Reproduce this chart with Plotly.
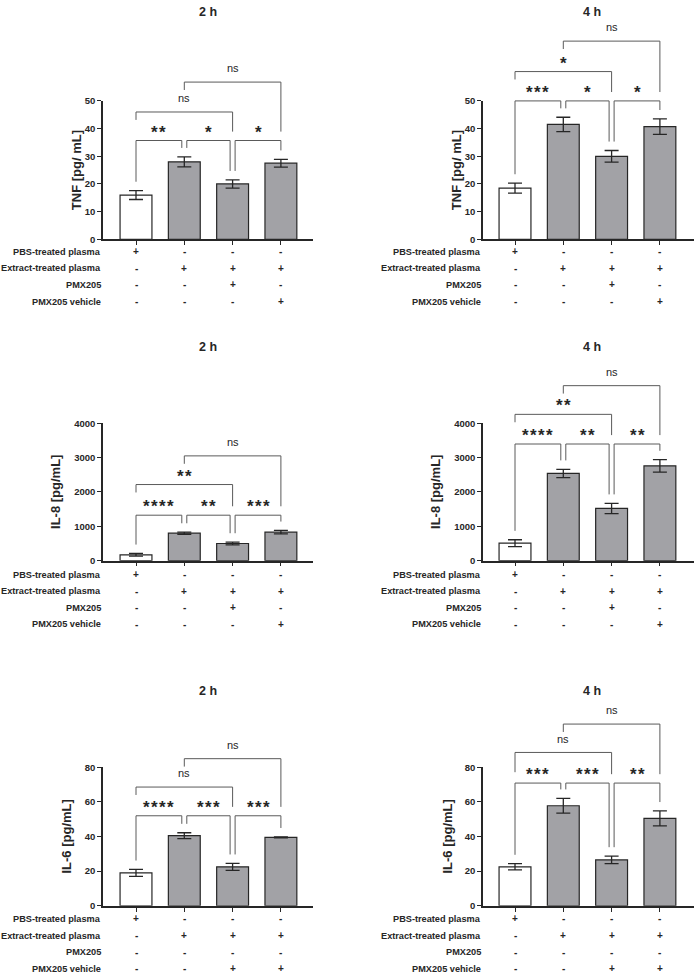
import plotly.graph_objects as go

W, H = 694, 977

# ---------------- data ----------------
row_labels = ["PBS-treated plasma", "Extract-treated plasma", "PMX205", "PMX205 vehicle"]
groups = [0, 1, 2, 3]

signs_std = [["+", "-", "-", "-"],
             ["-", "+", "+", "+"],
             ["-", "-", "+", "-"],
             ["-", "-", "-", "+"]]
signs_il6 = [["+", "-", "-", "-"],
             ["-", "+", "+", "+"],
             ["-", "-", "-", "-"],
             ["-", "-", "+", "+"]]

tnf_2h_mean = [16.0, 28.0, 20.0, 27.5]
tnf_2h_err = [1.6, 1.8, 1.5, 1.4]
tnf_4h_mean = [18.5, 41.5, 30.0, 40.7]
tnf_4h_err = [1.8, 2.6, 2.1, 2.8]
il8_2h_mean = [170, 800, 500, 830]
il8_2h_err = [40, 30, 40, 50]
il8_4h_mean = [510, 2540, 1520, 2760]
il8_4h_err = [100, 120, 150, 180]
il6_2h_mean = [19.0, 40.5, 22.5, 39.5]
il6_2h_err = [2.0, 1.7, 2.0, 0.3]
il6_4h_mean = [22.5, 57.8, 26.5, 50.5]
il6_4h_err = [1.8, 4.3, 2.2, 4.3]

# brackets: (group i, group j, level in data units, label)
tnf_2h_br = [(0, 1, 35.7, "**"), (1, 2, 35.7, "*"), (2, 3, 35.7, "*"),
             (0, 2, 46.0, "ns"), (1, 3, 56.8, "ns")]
tnf_4h_br = [(0, 1, 50.0, "***"), (1, 2, 50.0, "*"), (2, 3, 50.0, "*"),
             (0, 2, 60.6, "*"), (1, 3, 71.6, "ns")]
il8_2h_br = [(0, 1, 1324, "****"), (1, 2, 1324, "**"), (2, 3, 1324, "***"),
             (0, 2, 2216, "**"), (1, 3, 3050, "ns")]
il8_4h_br = [(0, 1, 3396, "****"), (1, 2, 3396, "**"), (2, 3, 3396, "**"),
             (0, 2, 4259, "**"), (1, 3, 5094, "ns")]
il6_2h_br = [(0, 1, 52.0, "****"), (1, 2, 52.0, "***"), (2, 3, 52.0, "***"),
             (0, 2, 68.6, "ns"), (1, 3, 85.0, "ns")]
il6_4h_br = [(0, 1, 70.9, "***"), (1, 2, 70.9, "***"), (2, 3, 70.9, "**"),
             (0, 2, 88.6, "ns"), (1, 3, 105.0, "ns")]

# ---------------- layout geometry (pixels) ----------------
COLS = [dict(ax_l=103, ax_r=313, c0=136, ttl_x=208),
        dict(ax_l=483, ax_r=694, c0=515, ttl_x=592)]
ROWS = [dict(y0=236, ytop=96, ttl_y=6.5, tab0=248.5),
        dict(y0=561, ytop=422, ttl_y=345, tab0=575),
        dict(y0=910, ytop=770, ttl_y=693, tab0=923.3)]
SP = 48.3
TAB_STEP = 16.8

panels = [
    dict(r=0, c=0, title="2 h", ytitle="TNF [pg/ mL]", ymax=50, dtick=10, mean=tnf_2h_mean, err=tnf_2h_err, br=tnf_2h_br, signs=signs_std, yt_x=76, long_left=False),
    dict(r=0, c=1, title="4 h", ytitle="TNF [pg/ mL]", ymax=50, dtick=10, mean=tnf_4h_mean, err=tnf_4h_err, br=tnf_4h_br, signs=signs_std, yt_x=456, long_left=False),
    dict(r=1, c=0, title="2 h", ytitle="IL-8 [pg/mL]", ymax=4000, dtick=1000, mean=il8_2h_mean, err=il8_2h_err, br=il8_2h_br, signs=signs_std, yt_x=56, long_left=False),
    dict(r=1, c=1, title="4 h", ytitle="IL-8 [pg/mL]", ymax=4000, dtick=1000, mean=il8_4h_mean, err=il8_4h_err, br=il8_4h_br, signs=signs_std, yt_x=436, long_left=False),
    dict(r=2, c=0, title="2 h", ytitle="IL-6 [pg/mL]", ymax=80, dtick=20, mean=il6_2h_mean, err=il6_2h_err, br=il6_2h_br, signs=signs_il6, yt_x=67, long_left=False),
    dict(r=2, c=1, title="4 h", ytitle="IL-6 [pg/mL]", ymax=80, dtick=20, mean=il6_4h_mean, err=il6_4h_err, br=il6_4h_br, signs=signs_il6, yt_x=448, long_left=True),
]

FONT = "Liberation Sans, Arial, sans-serif"
DARK = "#262626"
GREY = "#a2a2a6"
LINE = "#5a5a5a"

fig = go.Figure()
layout = dict(width=W, height=H, margin=dict(l=0, r=0, t=0, b=0),
              paper_bgcolor="white", plot_bgcolor="white", showlegend=False,
              font=dict(family=FONT, color=DARK))
shapes = []
annotations = []

for n, p in enumerate(panels, start=1):
    col = COLS[p["c"]]
    row = ROWS[p["r"]]
    sfx = "" if n == 1 else str(n)
    xa, ya = "x" + sfx, "y" + sfx
    lo = (col["ax_l"] - col["c0"]) / SP
    hi = (col["ax_r"] - col["c0"]) / SP
    ymax = p["ymax"]
    ax_w = col["ax_r"] - col["ax_l"]
    ax_h = row["y0"] - row["ytop"]

    layout["xaxis" + sfx] = dict(
        domain=[col["ax_l"] / W, min(col["ax_r"] / W, 1.0)], range=[lo, hi], anchor=ya,
        showline=True, linecolor=DARK, linewidth=1.5, ticks="outside", ticklen=4,
        tickwidth=1.2, tickcolor=DARK, tickvals=groups, showticklabels=False,
        showgrid=False, zeroline=False, fixedrange=True)
    layout["yaxis" + sfx] = dict(
        domain=[1 - row["y0"] / H, 1 - row["ytop"] / H], range=[0, ymax], anchor=xa,
        showline=True, linecolor=DARK, linewidth=1.5, ticks="outside", ticklen=4,
        tickwidth=1.2, tickcolor=DARK, dtick=p["dtick"], tick0=0,
        tickfont=dict(family=FONT, size=9.5, color=DARK, weight="bold"),
        showgrid=False, zeroline=False, fixedrange=True)

    fig.add_trace(go.Bar(
        x=groups, y=p["mean"], width=0.66, xaxis=xa, yaxis=ya,
        marker=dict(color=["white", GREY, GREY, GREY], line=dict(color=DARK, width=1.2)),
        error_y=dict(type="data", array=p["err"], color=DARK, thickness=1.3, width=7),
        hoverinfo="skip"))

    xd = xa + " domain"
    yd = ya + " domain"

    def xdom(x):
        return (x - lo) / (hi - lo)

    def ydom(v):
        return v / ymax

    def px_y(d):
        return d / ax_h

    def px_x(d):
        return d / ax_w

    # brackets
    lower_level = min(b[2] for b in p["br"])
    for (i, j, lev, lab) in p["br"]:
        adjacent = (j - i == 1)
        xl = xdom(i)
        xr = xdom(j)
        if adjacent:
            if i > 0:
                xl += px_x(2.5)
            if j < 3:
                xr -= px_x(2.5)
            bot_l = ydom(p["mean"][i] + p["err"][i]) + px_y(9)
            bot_r = ydom(p["mean"][j] + p["err"][j]) + px_y(9)
        else:
            if p["long_left"] and i == 0:
                bot_l = ydom(lower_level) + px_y(11)
            else:
                bot_l = ydom(lev) - px_y(8)
            bot_r = ydom(lower_level) + px_y(9)
        top = ydom(lev)
        for (x0, y0, x1, y1) in [(xl, top, xr, top), (xl, top, xl, bot_l), (xr, top, xr, bot_r)]:
            shapes.append(dict(type="line", xref=xd, yref=yd, x0=x0, y0=y0, x1=x1, y1=y1,
                               line=dict(color=LINE, width=1)))
        xm = (xl + xr) / 2
        if lab == "ns":
            annotations.append(dict(xref=xd, yref=yd, x=xm, y=top + px_y(14), text="ns",
                                    showarrow=False, xanchor="center", yanchor="middle",
                                    font=dict(family=FONT, size=11, color=DARK)))
        else:
            annotations.append(dict(xref=xd, yref=yd, x=xm, y=top + px_y(8.5),
                                    text="\u200a".join(lab), showarrow=False,
                                    xanchor="center", yanchor="middle",
                                    font=dict(family=FONT, size=17, color=DARK, weight="bold")))

    # panel title
    annotations.append(dict(xref="paper", yref="paper", x=col["ttl_x"] / W, y=1 - row["ttl_y"] / H,
                            text=p["title"], showarrow=False,
                            xanchor="center", yanchor="middle",
                            font=dict(family=FONT, size=12.5, color=DARK, weight="bold")))
    # y axis title
    annotations.append(dict(xref="paper", yref="paper", x=p["yt_x"] / W,
                            y=1 - (row["y0"] + row["ytop"]) / 2 / H, text=p["ytitle"],
                            textangle=-90, showarrow=False, xanchor="center", yanchor="middle",
                            font=dict(family=FONT, size=13, color=DARK, weight="bold")))
    # treatment table
    for k, lab in enumerate(row_labels):
        yy = 1 - (row["tab0"] + k * TAB_STEP) / H
        annotations.append(dict(xref="paper", yref="paper", x=col["ax_l"] / W, y=yy, text=lab,
                                showarrow=False, xanchor="right", yanchor="middle",
                                font=dict(family=FONT, size=9.2, color=DARK, weight="bold")))
        for g in groups:
            annotations.append(dict(xref=xa, yref="paper", x=g, y=yy, text=p["signs"][k][g],
                                    showarrow=False, xanchor="center", yanchor="middle",
                                    font=dict(family=FONT, size=10, color=DARK, weight="bold")))

layout["shapes"] = shapes
layout["annotations"] = annotations
fig.update_layout(**layout)
fig.write_html("out.html")
